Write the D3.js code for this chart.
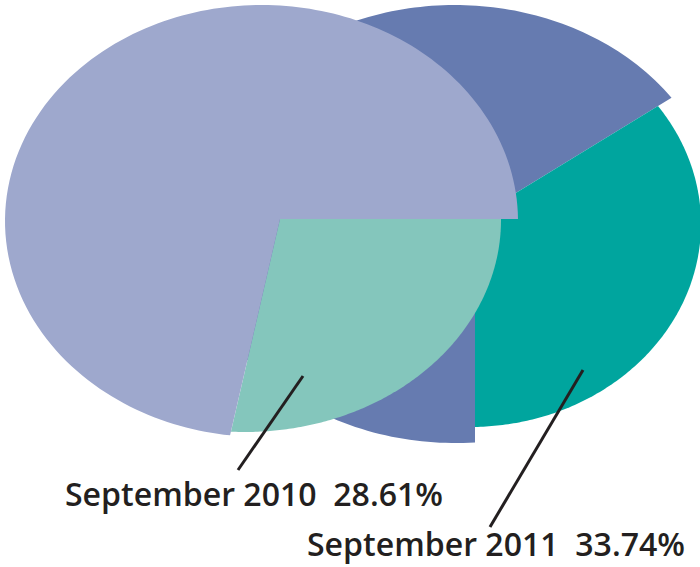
<!DOCTYPE html>
<html>
<head>
<meta charset="utf-8">
<script src="https://cdn.jsdelivr.net/npm/d3@7"></script>
<style>
  body { margin: 0; background: #fff; }
  .label { font-family: "Open Sans", sans-serif; font-weight: 600; fill: #231f20; }
</style>
</head>
<body>
<div id="chart"></div>
<script>
// Two overlapping pies: share for September 2010 (front) and September 2011 (back)

var periods = ["September 2010", "September 2011"];
var sharePct = [28.61, 33.74];
var shareColors = ["#84c6bc", "#00a59e"];
var restColors = ["#9ea8cd", "#667bb0"];

var width = 700, height = 567;

var svg = d3.select("#chart").append("svg")
    .attr("width", width)
    .attr("height", height);

// Geometry of each pie: apex of the wedges, start angle and an ellipse per slice
// (the original pies are drawn as slightly squashed ellipses, not circles)
var pies = [
  { // 2010, in front
    apex: [280, 219],
    start: Math.PI / 2,
    order: [0, 1],              // share first, then remainder
    shapes: [
      {cx: 245, cy: 220, rx: 256, ry: 212},
      {cx: 261.5, cy: 221, rx: 256.5, ry: 216}
    ]
  },
  { // 2011, behind
    apex: [475, 218],
    start: Math.PI,
    order: [1, 0],              // remainder first, then share
    shapes: [
      {cx: 470, cy: 224, rx: 231, ry: 203},
      {cx: 455, cy: 224, rx: 265, ry: 219}
    ]
  }
];

// distance from apex to ellipse edge along angle a (0 = up, clockwise)
function edgeRadius(apex, e, a) {
  var ux = Math.sin(a), uy = -Math.cos(a);
  var px = apex[0] - e.cx, py = apex[1] - e.cy;
  var A = (ux * ux) / (e.rx * e.rx) + (uy * uy) / (e.ry * e.ry);
  var B = 2 * (px * ux / (e.rx * e.rx) + py * uy / (e.ry * e.ry));
  var C = (px * px) / (e.rx * e.rx) + (py * py) / (e.ry * e.ry) - 1;
  return (-B + Math.sqrt(B * B - 4 * A * C)) / (2 * A);
}

function drawPie(i) {
  var p = pies[i];
  var values = [sharePct[i], 100 - sharePct[i]];
  var colors = [shareColors[i], restColors[i]];

  var slices = p.order.map(function (k) {
    return {key: k, value: values[k]};
  });

  var pie = d3.pie()
      .sort(null)
      .value(function (d) { return d.value; })
      .startAngle(p.start)
      .endAngle(p.start + 2 * Math.PI);

  var g = svg.append("g")
      .attr("transform", "translate(" + p.apex[0] + "," + p.apex[1] + ")");

  g.selectAll("path")
    .data(pie(slices))
    .enter().append("path")
    .attr("fill", function (d) { return colors[d.data.key]; })
    .attr("d", function (d) {
      var e = p.shapes[d.data.key];
      var n = 160;
      var pts = d3.range(n + 1).map(function (j) {
        return d.startAngle + (d.endAngle - d.startAngle) * j / n;
      });
      var area = d3.areaRadial()
          .angle(function (a) { return a; })
          .innerRadius(0)
          .outerRadius(function (a) { return edgeRadius(p.apex, e, a); });
      return area(pts);
    });
}

// back pie first, front pie on top
drawPie(1);
drawPie(0);

// leader lines and labels
var leaders = [
  {from: [303, 376], to: [238, 470], textX: 65, textY: 506},
  {from: [583, 370], to: [490, 527], textX: 307, textY: 556}
];

leaders.forEach(function (l, i) {
  svg.append("line")
      .attr("x1", l.from[0]).attr("y1", l.from[1])
      .attr("x2", l.to[0]).attr("y2", l.to[1])
      .attr("stroke", "#231f20")
      .attr("stroke-width", 3);

  svg.append("text")
      .attr("class", "label")
      .attr("x", l.textX)
      .attr("y", l.textY)
      .attr("font-size", 33)
      .attr("textLength", 378)
      .attr("lengthAdjust", "spacingAndGlyphs")
      .attr("xml:space", "preserve")
      .style("white-space", "pre")
      .text(periods[i] + "  " + sharePct[i].toFixed(2) + "%");
});
</script>
</body>
</html>
